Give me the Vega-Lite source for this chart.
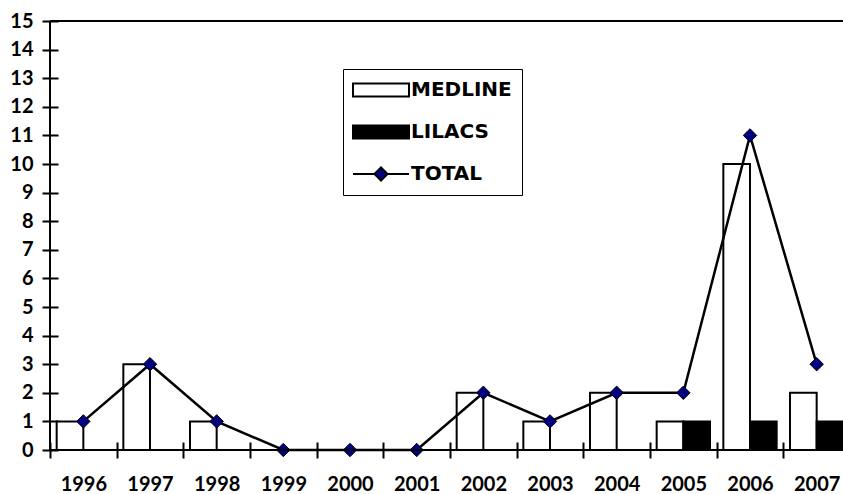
{
  "$schema": "https://vega.github.io/schema/vega-lite/v6.json",
  "width": 793,
  "height": 429,
  "autosize": {"type": "none"},
  "padding": {"left": 50, "top": 21, "right": 0, "bottom": 44},
  "background": "white",
  "config": {"view": {"stroke": null}, "font": "Lato"},
  "data": {
    "values": [
      {"year": "1996", "series": "MEDLINE", "value": 1},
      {"year": "1997", "series": "MEDLINE", "value": 3},
      {"year": "1998", "series": "MEDLINE", "value": 1},
      {"year": "1999", "series": "MEDLINE", "value": 0},
      {"year": "2000", "series": "MEDLINE", "value": 0},
      {"year": "2001", "series": "MEDLINE", "value": 0},
      {"year": "2002", "series": "MEDLINE", "value": 2},
      {"year": "2003", "series": "MEDLINE", "value": 1},
      {"year": "2004", "series": "MEDLINE", "value": 2},
      {"year": "2005", "series": "MEDLINE", "value": 1},
      {"year": "2006", "series": "MEDLINE", "value": 10},
      {"year": "2007", "series": "MEDLINE", "value": 2},
      {"year": "1996", "series": "LILACS", "value": 0},
      {"year": "1997", "series": "LILACS", "value": 0},
      {"year": "1998", "series": "LILACS", "value": 0},
      {"year": "1999", "series": "LILACS", "value": 0},
      {"year": "2000", "series": "LILACS", "value": 0},
      {"year": "2001", "series": "LILACS", "value": 0},
      {"year": "2002", "series": "LILACS", "value": 0},
      {"year": "2003", "series": "LILACS", "value": 0},
      {"year": "2004", "series": "LILACS", "value": 0},
      {"year": "2005", "series": "LILACS", "value": 1},
      {"year": "2006", "series": "LILACS", "value": 1},
      {"year": "2007", "series": "LILACS", "value": 1},
      {"year": "1996", "series": "TOTAL", "value": 1},
      {"year": "1997", "series": "TOTAL", "value": 3},
      {"year": "1998", "series": "TOTAL", "value": 1},
      {"year": "1999", "series": "TOTAL", "value": 0},
      {"year": "2000", "series": "TOTAL", "value": 0},
      {"year": "2001", "series": "TOTAL", "value": 0},
      {"year": "2002", "series": "TOTAL", "value": 2},
      {"year": "2003", "series": "TOTAL", "value": 1},
      {"year": "2004", "series": "TOTAL", "value": 2},
      {"year": "2005", "series": "TOTAL", "value": 2},
      {"year": "2006", "series": "TOTAL", "value": 11},
      {"year": "2007", "series": "TOTAL", "value": 3}
    ]
  },
  "layer": [
    {
      "encoding": {
        "x": {
          "field": "year", "type": "ordinal",
          "scale": {"range": [0, 800], "paddingInner": 0, "paddingOuter": 0},
          "axis": {
            "title": null, "domain": false, "offset": -8, "tickSize": 16, "tickWidth": 2,
            "tickColor": "black", "tickBand": "extent", "labelAngle": 0,
            "labelFont": "Lato", "labelFontSize": 20, "labelFontWeight": "bold",
            "labelColor": "black", "labelPadding": 16, "labelOverlap": false
          }
        },
        "y": {
          "field": "value", "type": "quantitative",
          "scale": {"domain": [0, 15], "nice": false},
          "axis": {
            "title": null, "domain": false, "offset": -8, "tickSize": 16, "tickWidth": 2,
            "tickColor": "black", "grid": false,
            "values": [0, 1, 2, 3, 4, 5, 6, 7, 8, 9, 10, 11, 12, 13, 14, 15],
            "labelOverlap": false,
            "labelFont": "Lato", "labelFontSize": 20, "labelFontWeight": "bold",
            "labelColor": "black", "labelPadding": 9
          }
        }
      },
      "layer": [
        {
          "transform": [{"filter": "datum.series !== 'TOTAL'"}],
          "mark": {"type": "bar", "stroke": "black", "strokeWidth": 2},
          "encoding": {
            "xOffset": {
              "field": "series", "type": "nominal", "sort": ["MEDLINE", "LILACS"],
              "scale": {"paddingInner": 0, "paddingOuter": 0.25}
            },
            "fill": {
              "field": "series", "type": "nominal",
              "scale": {"domain": ["MEDLINE", "LILACS", "TOTAL"], "range": ["white", "black", "#000080"]},
              "legend": {
                "orient": "none", "legendX": 293, "legendY": 48, "title": null,
                "strokeColor": "black", "fillColor": "white", "padding": 10,
                "symbolSize": 400, "symbolOffset": 17, "labelOffset": 19, "rowPadding": 20,
                "symbolStrokeColor": "black", "symbolStrokeWidth": 2, "symbolOpacity": 1,
                "labelFont": "DejaVu Sans", "labelFontSize": 20, "labelFontWeight": "bold", "labelColor": "black"
              }
            }
          }
        },
        {
          "transform": [{"filter": "datum.series === 'TOTAL'"}],
          "mark": {"type": "line", "color": "black", "strokeWidth": 2.5},
          "encoding": {}
        },
        {
          "transform": [{"filter": "datum.series === 'TOTAL'"}],
          "mark": {"type": "point", "shape": "diamond", "filled": true, "size": 180, "fill": "#000080", "stroke": "black", "strokeWidth": 1, "opacity": 1},
          "encoding": {}
        },
        {
          "transform": [{"filter": "datum.series === 'NONE'"}],
          "mark": {"type": "point", "filled": true, "stroke": "black", "strokeWidth": 2, "opacity": 1},
          "encoding": {
            "fill": {"field": "series", "type": "nominal"},
            "shape": {
              "field": "series", "type": "nominal",
              "scale": {"domain": ["MEDLINE", "LILACS", "TOTAL"], "range": ["M-2.8,-0.65H2.8V0.65H-2.8Z", "M-2.8,-0.65H2.8V0.65H-2.8Z", "M-2.8,0H-0.65M0.65,0H2.8M-0.65,0L0,-0.65L0.65,0L0,0.65Z"]},
              "legend": {
                "orient": "none", "legendX": 293, "legendY": 48, "title": null,
                "strokeColor": "black", "fillColor": "white", "padding": 10,
                "symbolSize": 400, "symbolOffset": 17, "labelOffset": 19, "rowPadding": 20,
                "symbolStrokeColor": "black", "symbolStrokeWidth": 2, "symbolOpacity": 1,
                "labelFont": "DejaVu Sans", "labelFontSize": 20, "labelFontWeight": "bold", "labelColor": "black"
              }
            }
          }
        }
      ]
    },
    {
      "mark": {"type": "rule", "color": "black", "strokeWidth": 2},
      "encoding": {
        "y": {
          "datum": 15, "type": "quantitative",
          "axis": {
            "title": null, "domain": false, "offset": -8, "tickSize": 16, "tickWidth": 2,
            "tickColor": "black", "grid": false,
            "values": [0, 1, 2, 3, 4, 5, 6, 7, 8, 9, 10, 11, 12, 13, 14, 15],
            "labelOverlap": false,
            "labelFont": "Lato", "labelFontSize": 20, "labelFontWeight": "bold",
            "labelColor": "black", "labelPadding": 9
          }
        }
      }
    },
    {
      "mark": {"type": "rule", "color": "black", "strokeWidth": 2},
      "encoding": {
        "y": {
          "datum": 0, "type": "quantitative",
          "axis": {
            "title": null, "domain": false, "offset": -8, "tickSize": 16, "tickWidth": 2,
            "tickColor": "black", "grid": false,
            "values": [0, 1, 2, 3, 4, 5, 6, 7, 8, 9, 10, 11, 12, 13, 14, 15],
            "labelOverlap": false,
            "labelFont": "Lato", "labelFontSize": 20, "labelFontWeight": "bold",
            "labelColor": "black", "labelPadding": 9
          }
        }
      }
    },
    {
      "mark": {"type": "rule", "color": "black", "strokeWidth": 2},
      "encoding": {
        "x": {
          "datum": "1996", "type": "ordinal", "bandPosition": 0,
          "axis": {
            "title": null, "domain": false, "offset": -8, "tickSize": 16, "tickWidth": 2,
            "tickColor": "black", "tickBand": "extent", "labelAngle": 0,
            "labelFont": "Lato", "labelFontSize": 20, "labelFontWeight": "bold",
            "labelColor": "black", "labelPadding": 16, "labelOverlap": false
          }
        }
      }
    }
  ]
}
